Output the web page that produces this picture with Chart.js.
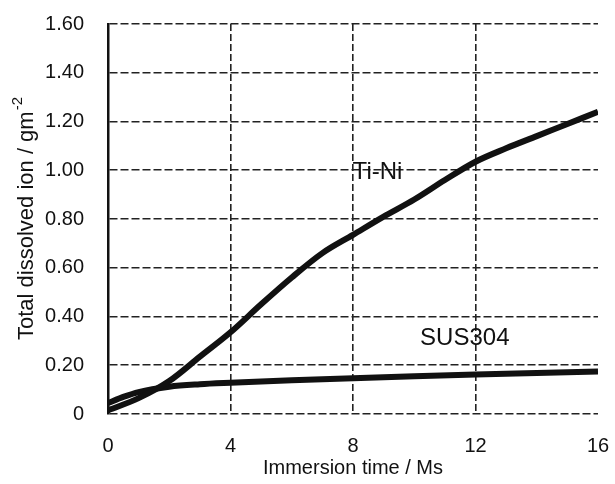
<!DOCTYPE html>
<html>
<head>
<meta charset="utf-8">
<script src="https://cdn.jsdelivr.net/npm/chart.js@4"></script>
<style>
  html, body { margin: 0; padding: 0; background: #fff; }
  #wrap { width: 615px; height: 484px; }
</style>
</head>
<body>
<div id="wrap"><canvas id="myChart" width="615" height="484"></canvas></div>
<script>
// * Data
const tiNiTime = [0, 1, 2, 3, 4, 5, 6, 7, 8, 9, 10, 11, 12, 13, 14, 15, 16];
const tiNiIon = [0.015, 0.065, 0.135, 0.235, 0.335, 0.45, 0.56, 0.66, 0.735, 0.81, 0.88, 0.96, 1.035, 1.09, 1.14, 1.19, 1.24];

const susTime = [0, 0.5, 1, 2, 3, 4, 6, 8, 10, 12, 14, 16];
const susIon = [0.045, 0.07, 0.09, 0.112, 0.122, 0.128, 0.138, 0.147, 0.155, 0.162, 0.168, 0.174];

const xTicks = [0, 4, 8, 12, 16];
const yTicks = [0, 0.2, 0.4, 0.6, 0.8, 1.0, 1.2, 1.4, 1.6];

const curveLabels = ["Ti-Ni", "SUS304"];
const curveLabelX = [8.8, 11.65];
const curveLabelY = [0.99, 0.31];

const FONT = "Arial, 'Liberation Sans', sans-serif";
const INK = "#111";
const GRID = "#222";

function toPoints(xs, ys) {
  return xs.map((x, i) => ({ x: x, y: ys[i] }));
}

// draws the curve names and the y title (with superscript)
const textPlugin = {
  id: "textPlugin",
  afterDraw(chart) {
    const ctx = chart.ctx;
    const xs = chart.scales.x;
    const ys = chart.scales.y;
    ctx.save();
    ctx.fillStyle = INK;
    ctx.font = "24px " + FONT;
    ctx.textAlign = "center";
    ctx.textBaseline = "middle";
    curveLabels.forEach((t, i) => {
      ctx.fillText(t, xs.getPixelForValue(curveLabelX[i]), ys.getPixelForValue(curveLabelY[i]));
    });

    // y title
    const main = "Total dissolved ion / gm";
    const sup = "-2";
    ctx.font = "22px " + FONT;
    const w1 = ctx.measureText(main).width;
    ctx.font = "15px " + FONT;
    const w2 = ctx.measureText(sup).width;
    const total = w1 + w2;
    const cy = (ys.top + ys.bottom) / 2;
    ctx.translate(27, cy);
    ctx.rotate(-Math.PI / 2);
    ctx.textAlign = "left";
    ctx.textBaseline = "middle";
    ctx.font = "22px " + FONT;
    ctx.fillText(main, -total / 2, 0);
    ctx.font = "15px " + FONT;
    ctx.fillText(sup, -total / 2 + w1 + 1, -9);
    ctx.restore();
  },
};

const Canvas = document.getElementById("myChart").getContext("2d");

const config = {
  type: "scatter",
  data: {
    datasets: [
      {
        label: "Ti-Ni",
        data: toPoints(tiNiTime, tiNiIon),
        showLine: true,
        borderColor: INK,
        borderWidth: 6,
        pointRadius: 0,
        cubicInterpolationMode: "monotone",
      },
      {
        label: "SUS304",
        data: toPoints(susTime, susIon),
        showLine: true,
        borderColor: INK,
        borderWidth: 6,
        pointRadius: 0,
        cubicInterpolationMode: "monotone",
      },
    ],
  },
  options: {
    responsive: false,
    animation: false,
    layout: {
      padding: { left: 0, right: 17, top: 24, bottom: 0 },
    },
    plugins: {
      legend: { display: false },
      tooltip: { enabled: false },
    },
    scales: {
      x: {
        type: "linear",
        min: 0,
        max: 16,
        afterBuildTicks: (scale) => {
          scale.ticks = xTicks.map((v) => ({ value: v }));
        },
        afterFit: (scale) => {
          scale.height = 70;
          scale.paddingLeft = 0;
          scale.paddingRight = 0;
        },
        ticks: {
          color: INK,
          font: { family: FONT, size: 20 },
          padding: 20,
          maxRotation: 0,
        },
        grid: {
          drawTicks: false,
          color: (c) => (c.tick && (c.tick.value === 0 || c.tick.value === 16) ? "rgba(0,0,0,0)" : GRID),
          lineWidth: 1.6,
        },
        border: { display: false, dash: [7, 3] },
        title: {
          display: true,
          text: "Immersion time / Ms",
          color: INK,
          font: { family: FONT, size: 20 },
          padding: { top: 0 },
        },
      },
      y: {
        type: "linear",
        min: 0,
        max: 1.6,
        afterBuildTicks: (scale) => {
          scale.ticks = yTicks.map((v) => ({ value: v }));
        },
        afterFit: (scale) => {
          scale.width = 108;
          scale.paddingTop = 0;
          scale.paddingBottom = 0;
        },
        ticks: {
          color: INK,
          font: { family: FONT, size: 20 },
          padding: 24,
          callback: (v) => (v === 0 ? "0" : v.toFixed(2)),
        },
        grid: {
          drawTicks: false,
          color: GRID,
          lineWidth: 1.6,
        },
        border: { display: true, color: INK, width: 2.5, dash: [8, 3] },
      },
    },
  },
  plugins: [textPlugin],
};

const myChart = new Chart(Canvas, config);
</script>
</body>
</html>
